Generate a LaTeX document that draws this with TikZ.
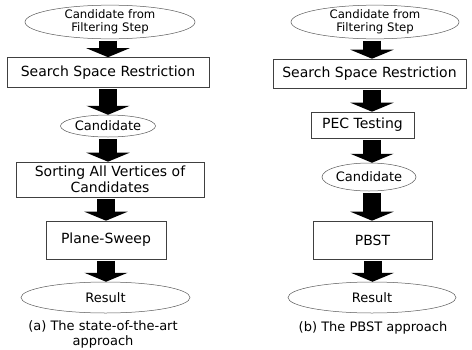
\documentclass[tikz,border=0pt]{standalone}
\usepackage{fontspec}
\setmainfont{DejaVu Sans}
\usetikzlibrary{shapes.geometric,arrows.meta}
\begin{document}
\begin{tikzpicture}[x=1pt,y=-1pt,
  box/.style={draw=black!75, line width=0.6pt, rectangle, inner sep=0pt, align=center,
    font=\fontsize{14}{15.5}\selectfont},
  ell/.style={draw=black!65, line width=0.5pt, ellipse, inner sep=0pt, align=center,
    font=\fontsize{13}{14}\selectfont},
  topell/.style={ell, font=\fontsize{11.7}{12.5}\selectfont},
  blk/.style={draw=black, line width=18pt, -{Triangle[width=43pt,length=9pt]}, shorten <=1.5pt},
  captext/.style={align=center, inner sep=0pt, font=\fontsize{13}{15}\selectfont}
]
\useasboundingbox (0,0) rectangle (472,349);
% ---- left column
\node[topell, minimum width=170pt, minimum height=26pt] (l1) at (110,22) {Candidate from\\Filtering Step};
\node[box, minimum width=202pt, minimum height=30pt] (l2) at (108,72.5) {Search Space Restriction};
\node[ell, minimum width=95pt, minimum height=22pt] (l3) at (108,126) {Candidate};
\node[box, minimum width=188pt, minimum height=35pt] (l4) at (110,179.5) {Sorting All Vertices of\\Candidates};
\node[box, minimum width=120pt, minimum height=38pt] (l5) at (106,240) {Plane-Sweep};
\node[ell, minimum width=169pt, minimum height=31pt] (l6) at (105.5,297.5) {Result};
\node[captext] (lc) at (103,334.5) {(a) The state-of-the-art\\approach};
\draw[blk] (l2.north |- l1.south) -- (l2.north);
\draw[blk] (l2.south) -- (l3.north);
\draw[blk] (l3.south) -- (l3.south |- l4.north);
\draw[blk] (l5.north |- l4.south) -- (l5.north);
\draw[blk] (l5.south) -- (l5.south |- l6.north);
% ---- right column
\node[topell, minimum width=168pt, minimum height=26pt] (r1) at (375,22) {Candidate from\\Filtering Step};
\node[box, minimum width=193pt, minimum height=29pt] (r2) at (369.5,73.5) {Search Space Restriction};
\node[box, minimum width=103pt, minimum height=26pt] (r3) at (362.5,125) {PEC Testing};
\node[ell, minimum width=94pt, minimum height=28pt] (r4) at (369,177) {Candidate};
\node[box, minimum width=119pt, minimum height=38pt] (r5) at (372.5,240) {PBST};
\node[ell, minimum width=168pt, minimum height=31pt] (r6) at (372,297.5) {Result};
\node[captext] (rc) at (373,328) {(b) The PBST approach};
\draw[blk] (372,0 |- r1.south) -- (372,0 |- r2.north);
\draw[blk] (372,0 |- r2.south) -- (372,0 |- r3.north);
\draw[blk] (372,0 |- r3.south) -- (372,0 |- r4.north);
\draw[blk] (372,0 |- r4.south) -- (372,0 |- r5.north);
\draw[blk] (r5.south) -- (r5.south |- r6.north);
\end{tikzpicture}
\end{document}
